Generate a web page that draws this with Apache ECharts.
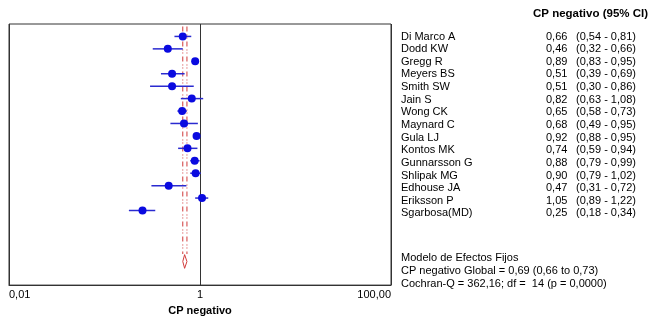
<!DOCTYPE html>
<html>
<head>
<meta charset="utf-8">
<script src="https://cdn.jsdelivr.net/npm/echarts@6/dist/echarts.min.js"></script>
<style>
    html, body { margin: 0; padding: 0; background: #fff; }
    #chart { width: 659px; height: 321px; }
</style>
</head>
<body>
<div id="chart"></div>
<script>
// estudios y valores (CP negativo, IC 95%)
const studies = ['Di Marco A', 'Dodd KW', 'Gregg R', 'Meyers BS', 'Smith SW', 'Jain S', 'Wong CK', 'Maynard C',
    'Gula LJ', 'Kontos MK', 'Gunnarsson G', 'Shlipak MG', 'Edhouse JA', 'Eriksson P', 'Sgarbosa(MD)'];
const estimate = [0.66, 0.46, 0.89, 0.51, 0.51, 0.82, 0.65, 0.68, 0.92, 0.74, 0.88, 0.90, 0.47, 1.05, 0.25];
const lower = [0.54, 0.32, 0.83, 0.39, 0.30, 0.63, 0.58, 0.49, 0.88, 0.59, 0.79, 0.79, 0.31, 0.89, 0.18];
const upper = [0.81, 0.66, 0.95, 0.69, 0.86, 1.08, 0.73, 0.95, 0.95, 0.94, 0.99, 1.02, 0.72, 1.22, 0.34];
// estimacion global
const pooled = [0.69, 0.66, 0.73]; // est, lower, upper
const axisTicks = [0.01, 1, 100];
const summaryLines = [
    'Modelo de Efectos Fijos',
    'CP negativo Global = 0,69 (0,66 to 0,73)',
    'Cochran-Q = 362,16; df =  14 (p = 0,0000)'
];

const font = 'Liberation Sans, Arial, sans-serif';
const fmt = (v) => v.toFixed(2).replace('.', ',');

const myChart = echarts.init(document.getElementById('chart'));

const rowY = (i) => 37 + i * 12.64;

// textos del panel derecho
let graphics = [{
    type: 'text', left: 533, top: 8,
    style: { text: 'CP negativo (95% CI)', font: 'bold 11.5px ' + font, fill: '#000' }
}];
studies.forEach((s, i) => {
    const y = rowY(i) - 6;
    graphics.push({ type: 'text', left: 401, top: y, style: { text: s, font: '11px ' + font, fill: '#000' } });
    graphics.push({ type: 'text', left: 546, top: y, style: { text: fmt(estimate[i]), font: '11px ' + font, fill: '#000' } });
    graphics.push({ type: 'text', left: 576, top: y,
        style: { text: '(' + fmt(lower[i]) + ' - ' + fmt(upper[i]) + ')', font: '11px ' + font, fill: '#000' } });
});
summaryLines.forEach((t, i) => {
    graphics.push({ type: 'text', left: 401, top: 252 + i * 13, style: { text: t, font: '11px ' + font, fill: '#000' } });
});

const option = {
    animation: false,
    grid: { left: 9, right: 268, top: 24, bottom: 32, show: true, borderColor: '#333', borderWidth: 1 },
    xAxis: {
        type: 'log',
        logBase: 100,
        min: axisTicks[0],
        max: axisTicks[axisTicks.length - 1],
        name: 'CP negativo',
        nameLocation: 'middle',
        nameGap: 17,
        nameTextStyle: { fontFamily: font, fontWeight: 'bold', fontSize: 11, color: '#000' },
        axisLine: { show: true, onZero: false, lineStyle: { color: '#333' } },
        axisTick: { show: false },
        splitLine: { show: true, lineStyle: { color: '#333', width: 1 } },
        axisLabel: {
            fontFamily: font, fontSize: 11, color: '#000', margin: 4,
            alignMinLabel: 'left', alignMaxLabel: 'right',
            formatter: (v) => (v === 1 ? '1' : v < 1 ? '0,01' : '100,00')
        }
    },
    yAxis: { type: 'value', inverse: true, min: -1, max: 20, show: false },
    graphic: graphics,
    series: [
        {
            // lineas IC global
            type: 'custom',
            data: [[pooled[1]], [pooled[2]]],
            renderItem: (params, api) => {
                const a = api.coord([api.value(0), -0.8]);
                const b = api.coord([api.value(0), 17.5]);
                return {
                    type: 'line',
                    shape: { x1: a[0], y1: a[1], x2: b[0], y2: b[1] },
                    style: { stroke: '#d03a3a', lineWidth: 1, lineDash: [5, 3, 1, 2, 1, 3] }
                };
            }
        },
        {
            // rombo global
            type: 'custom',
            data: [pooled],
            renderItem: (params, api) => {
                const pts = [
                    api.coord([api.value(1), 18.1]),
                    api.coord([api.value(0), 17.55]),
                    api.coord([api.value(2), 18.1]),
                    api.coord([api.value(0), 18.65])
                ];
                return {
                    type: 'polygon',
                    shape: { points: pts },
                    style: { fill: 'none', stroke: '#d03a3a', lineWidth: 1 }
                };
            }
        },
        {
            // IC de cada estudio
            type: 'custom',
            data: studies.map((s, i) => [lower[i], upper[i], i]),
            renderItem: (params, api) => {
                const a = api.coord([api.value(0), api.value(2)]);
                const b = api.coord([api.value(1), api.value(2)]);
                return {
                    type: 'line',
                    shape: { x1: a[0], y1: a[1], x2: b[0], y2: b[1] },
                    style: { stroke: '#2a2ad0', lineWidth: 1.5 }
                };
            }
        },
        {
            type: 'scatter',
            symbol: 'circle',
            symbolSize: 8,
            itemStyle: { color: '#0a0ae0', opacity: 1 },
            data: estimate.map((v, i) => [v, i])
        }
    ]
};
myChart.setOption(option);
</script>
</body>
</html>
